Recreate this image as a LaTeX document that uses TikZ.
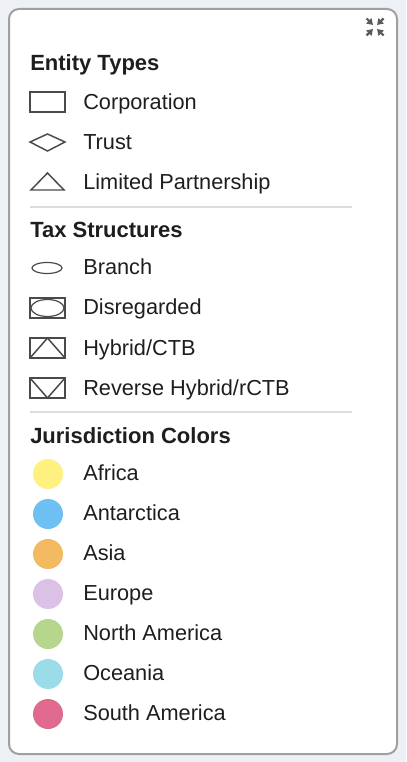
\documentclass[tikz,border=0pt]{standalone}
\usepackage{fontspec}
\setmainfont{Liberation Sans}
\usetikzlibrary{arrows.meta}
\definecolor{bgc}{HTML}{EDF0F4}
\definecolor{frame}{HTML}{A0A0A0}
\definecolor{txt}{HTML}{1E1E1E}
\definecolor{sym}{HTML}{4A4A4A}
\definecolor{sepc}{HTML}{DCDCDC}
\definecolor{iconc}{HTML}{5A5A5A}
\definecolor{cafr}{HTML}{FFF080}
\definecolor{cant}{HTML}{6EBFF2}
\definecolor{casi}{HTML}{F3BA62}
\definecolor{ceur}{HTML}{DCC1E6}
\definecolor{cnam}{HTML}{B6D68D}
\definecolor{coce}{HTML}{9ADCE8}
\definecolor{csam}{HTML}{DF6A8E}
\tikzset{
  x=0.75pt, y=-0.75pt,
  head/.style={anchor=base west, inner sep=0pt, text=txt, font=\fontsize{16.5pt}{18pt}\selectfont\bfseries},
  item/.style={anchor=base west, inner sep=0pt, text=txt, font=\fontsize{16.3pt}{18pt}\selectfont},
  symb/.style={draw=sym, line width=1.1pt},
  sep/.style={draw=sepc, line width=1.4pt},
  dot/.style={circle, minimum size=22.5pt, inner sep=0pt},
  icon/.style={draw=iconc, line width=1.6pt, -{Triangle[length=4.5pt,width=5.5pt]}}
}
\begin{document}
\begin{tikzpicture}
\fill[bgc] (0,0) rectangle (406,762);
\useasboundingbox (0,0) rectangle (406,762);
\filldraw[fill=white, draw=frame, line width=1.5pt, rounded corners=7.5pt] (9,9) rectangle (397,754);

% collapse icon
\draw[icon] (366.5,18.5) -- (373,25);
\draw[icon] (383.5,18.5) -- (377,25);
\draw[icon] (366.5,35.5) -- (373,29);
\draw[icon] (383.5,35.5) -- (377,29);

% Entity types
\node[head] (h1) at (30,71) {Entity Types};
\draw[symb] (30,92) rectangle (65,112);
\node[item] (t1) at (83,109.5) {Corporation};
\draw[symb] (30,142) -- (47.5,134) -- (65,142) -- (47.5,151) -- cycle;
\node[item] (t2) at (83,149.5) {Trust};
\draw[symb] (31,190) -- (47.5,173) -- (64,190) -- cycle;
\node[item] (t3) at (83,189.5) {Limited Partnership};
\draw[sep] (30,207) -- (352,207);

% Tax structures
\node[head] (h2) at (30,237.3) {Tax Structures};
\draw[symb, line width=0.9pt] (47,268) ellipse (15 and 5.5);
\node[item] (t4) at (83,275) {Branch};
\draw[symb] (30,298) rectangle (65,318);
\draw[symb, line width=0.9pt] (47.5,308) ellipse (16.5 and 8.5);
\node[item] (t5) at (83,315) {Disregarded};
\draw[symb] (30,338) rectangle (65,358);
\draw[symb] (30,358) -- (47.5,338) -- (65,358);
\node[item] (t6) at (83,355) {Hybrid/CTB};
\draw[symb] (30,378) rectangle (65,398);
\draw[symb] (30,378) -- (47.5,398) -- (65,378);
\node[item] (t7) at (83,395) {Reverse Hybrid/rCTB};
\draw[sep] (30,412) -- (352,412);

% Jurisdiction colours
\node[head] (h3) at (30,443) {Jurisdiction Colors};
\node[dot, fill=cafr] (c1) at (48,474) {};
\node[item] (j1) at (83,480.5) {Africa};
\node[dot, fill=cant] (c2) at (48,514) {};
\node[item] (j2) at (83,520.5) {Antarctica};
\node[dot, fill=casi] (c3) at (48,554) {};
\node[item] (j3) at (83,560.5) {Asia};
\node[dot, fill=ceur] (c4) at (48,594) {};
\node[item] (j4) at (83,600.5) {Europe};
\node[dot, fill=cnam] (c5) at (48,634) {};
\node[item] (j5) at (83,640.5) {North America};
\node[dot, fill=coce] (c6) at (48,674) {};
\node[item] (j6) at (83,680.5) {Oceania};
\node[dot, fill=csam] (c7) at (48,714) {};
\node[item] (j7) at (83,720.5) {South America};
\end{tikzpicture}
\end{document}
